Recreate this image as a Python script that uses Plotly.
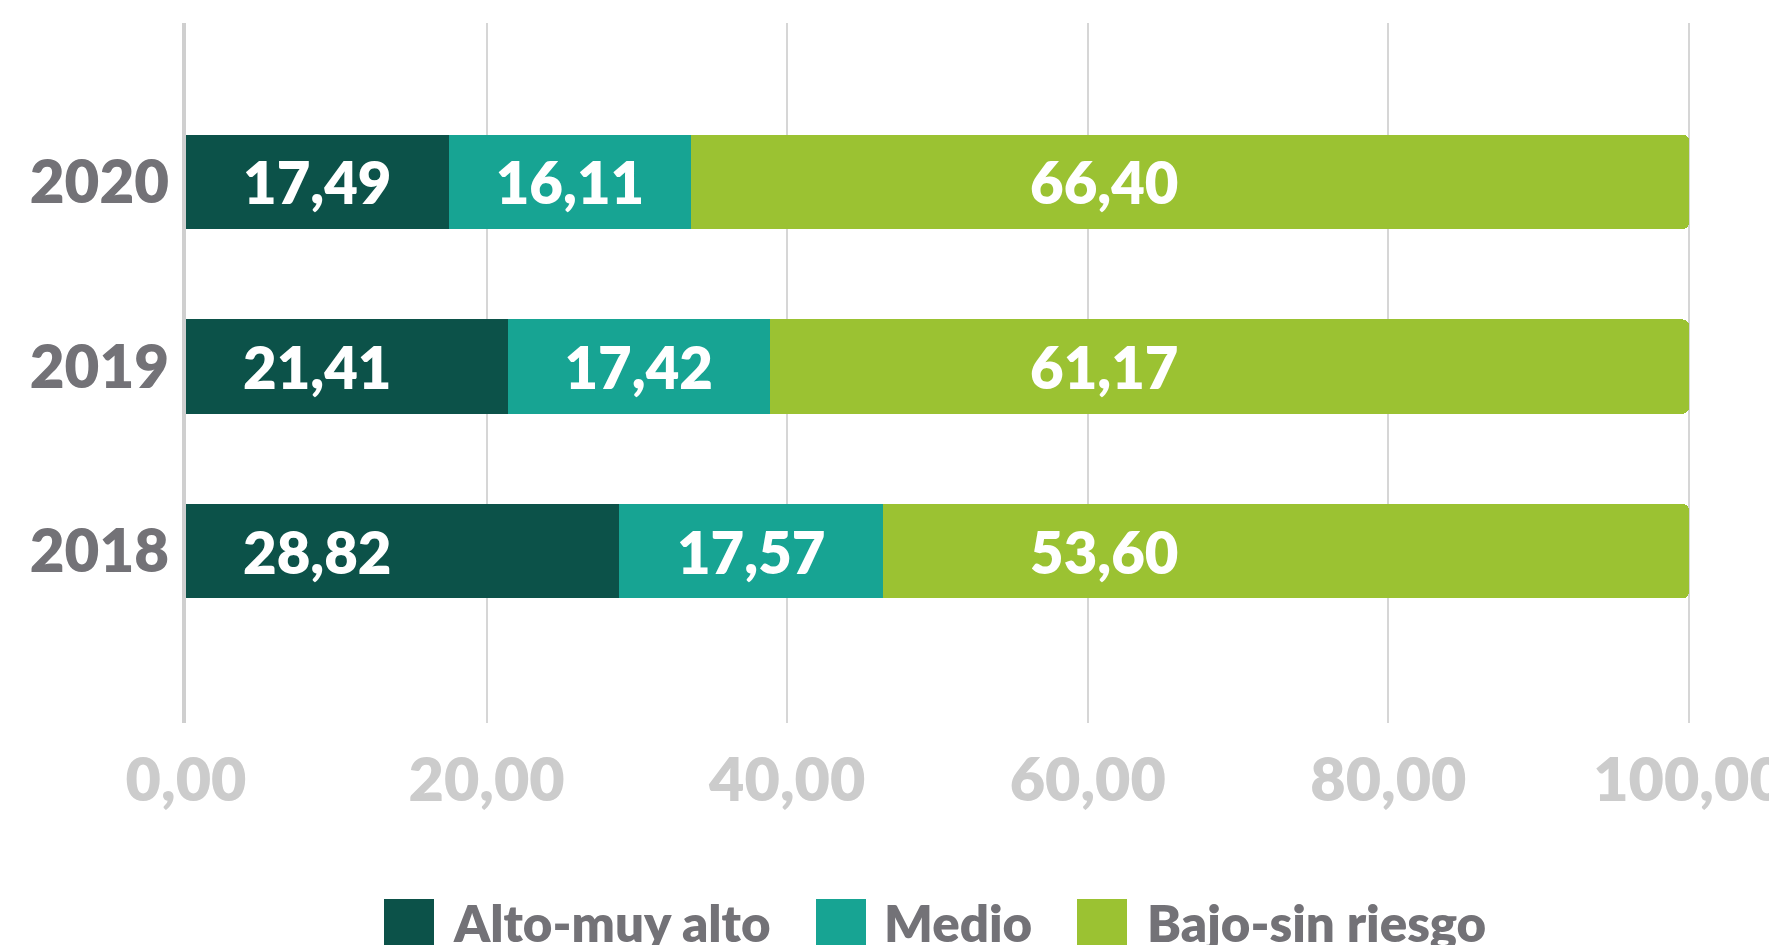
import plotly.graph_objects as go

years = ["2018", "2019", "2020"]
series_names = ["Alto-muy alto", "Medio", "Bajo-sin riesgo"]
alto = [28.82, 21.41, 17.49]
medio = [17.57, 17.42, 16.11]
bajo = [53.60, 61.17, 66.40]
x_ticks = [0, 20, 40, 60, 80, 100]

colors = ["#0c5249", "#17a493", "#9bc232"]
FONT = "Lato"
FW = 800
FS = 58
OFF = 8  # page body margin
W, H = 1777 - OFF, 945 - OFF
L, T = 186 - OFF, 23 - OFF
R = W - (1692 - OFF)
B = H - (723 - OFF)
PW, PH = W - L - R, H - T - B


def px_x(px):
    # px given in page (screenshot) coordinates
    return (px - OFF - L) / PW


def px_y(py):
    return (H - B - (py - OFF)) / PH


def fmt(v):
    return f"{v:.2f}".replace(".", ",")


fig = go.Figure()
for name, vals, col, txt in [
    (series_names[0], alto, colors[0], False),
    (series_names[1], medio, colors[1], True),
    (series_names[2], bajo, colors[2], False),
]:
    fig.add_trace(go.Bar(
        y=years, x=vals, orientation="h", name=name,
        marker=dict(color=col, line=dict(width=0)),
        text=[fmt(v) for v in vals] if txt else None,
        textposition="inside" if txt else "none",
        insidetextanchor="middle",
        textangle=0,
        textfont=dict(family=FONT, size=FS, color="white", weight=FW),
        showlegend=False,
    ))

annotations = []
lbl_font = dict(family=FONT, size=FS, color="white", weight=FW)
# dark segment labels (left aligned near start)
for i, v in enumerate(alto):
    annotations.append(dict(x=0, y=i, xref="x", yref="y", text=fmt(v),
                            showarrow=False, xanchor="left", xshift=55,
                            font=lbl_font))
# light segment labels
LIME_LABEL_X = 61.1
for i, v in enumerate(bajo):
    annotations.append(dict(x=LIME_LABEL_X, y=i, xref="x", yref="y", text=fmt(v),
                            showarrow=False, xanchor="center",
                            font=lbl_font))

# manual legend
legend_sq_left = [384, 816, 1077]
legend_txt_left = [451, 882, 1145]
shapes = []
for name, col, sx, tx in zip(series_names, colors, legend_sq_left, legend_txt_left):
    shapes.append(dict(type="rect", xref="paper", yref="paper",
                       x0=px_x(sx), x1=px_x(sx + 50), y0=px_y(950), y1=px_y(899),
                       fillcolor=col, line=dict(width=0), layer="above"))
    annotations.append(dict(x=px_x(tx), y=px_y(922), xref="paper", yref="paper",
                            text=name, showarrow=False, xanchor="left", yanchor="middle",
                            font=dict(family=FONT, size=51, color="#737277", weight=FW)))

fig.update_layout(
    width=W, height=H,
    margin=dict(l=L, r=R, t=T, b=B, autoexpand=False),
    barmode="stack", bargap=0.49,
    barcornerradius=6,
    separators=",.",
    plot_bgcolor="white", paper_bgcolor="white",
    shapes=shapes, annotations=annotations,
    xaxis=dict(range=[0, 100.2], tickvals=x_ticks, tickformat=".2f",
               showgrid=True, gridcolor="#d6d6d6", gridwidth=1.5,
               zeroline=False, showline=False, ticks="",
               ticklabelstandoff=16, ticklabeloverflow="allow",
               tickfont=dict(family=FONT, size=61, color="#cccccc", weight=FW)),
    yaxis=dict(type="category", categoryorder="array", categoryarray=years,
               range=[-0.93, 2.86],
               showgrid=False, zeroline=False,
               showline=True, linecolor="#cfcfcf", linewidth=4,
               ticks="", ticklabelstandoff=1,
               tickfont=dict(family=FONT, size=60, color="#737277", weight=FW)),
)

fig.write_html("out.html")
